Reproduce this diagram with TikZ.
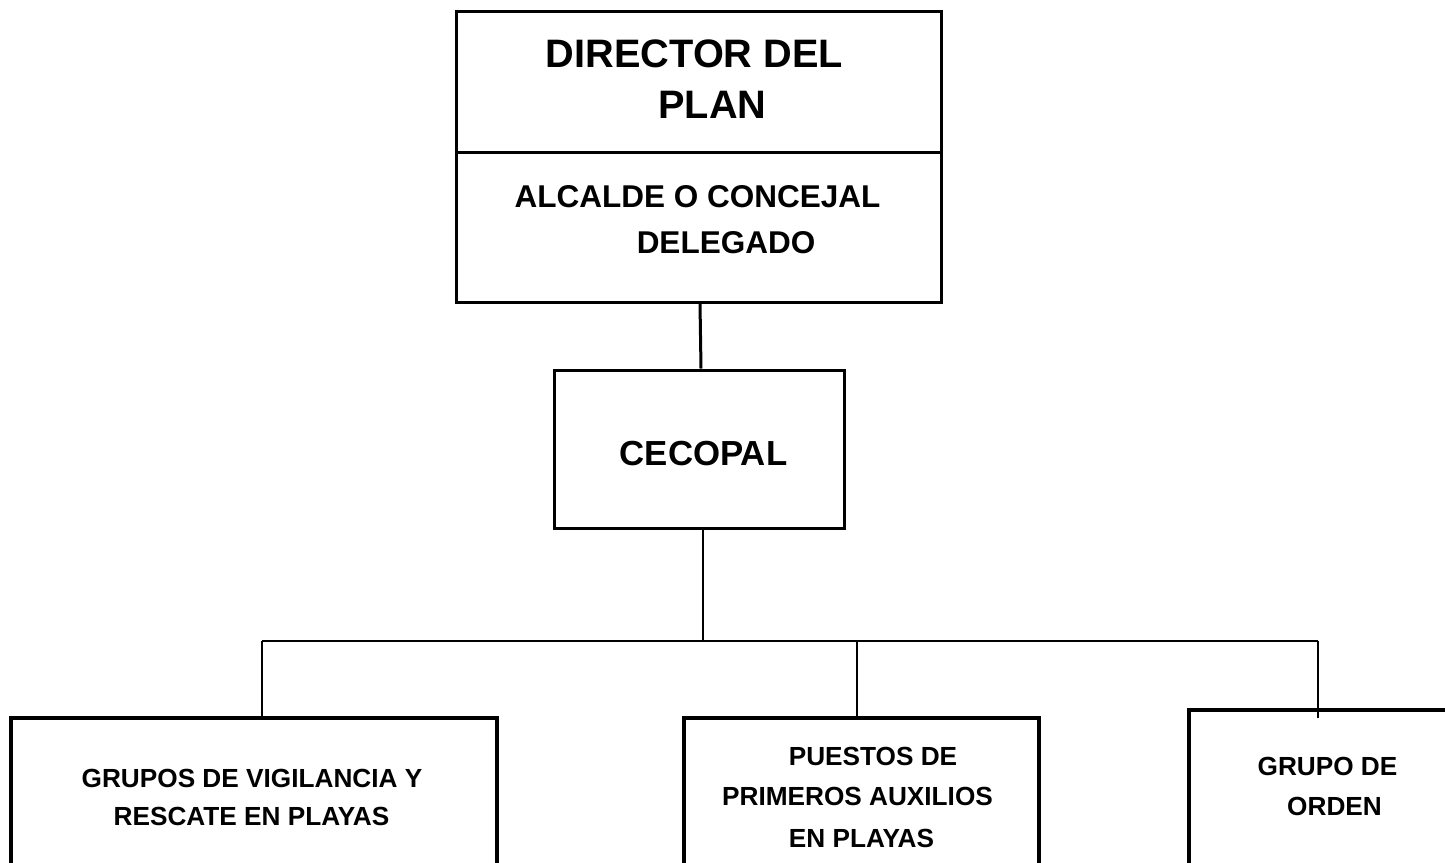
\documentclass[tikz,border=0pt]{standalone}
\usepackage{fontspec}
\setmainfont{Liberation Sans}
\begin{document}
\begin{tikzpicture}[x=1pt,y=-1pt,
  box/.style={draw=black,line width=3pt,rectangle,inner sep=0pt},
  conn/.style={draw=black,line width=2pt},
  big/.style={anchor=base,inner sep=0pt,font=\fontsize{39.7}{39.7}\selectfont\bfseries},
  mid/.style={anchor=base,inner sep=0pt,font=\fontsize{31.5}{31.5}\selectfont\bfseries},
  cec/.style={anchor=base,inner sep=0pt,font=\fontsize{34.8}{34.8}\selectfont\bfseries},
  small/.style={anchor=base,inner sep=0pt,font=\fontsize{26.2}{26.2}\selectfont\bfseries}]
\clip (0,0) rectangle (1445,862);
\fill[white] (0,0) rectangle (1445,862);
% boxes
\node[box,minimum width=485pt,minimum height=291pt] (top) at (698.5,156.5) {};
\draw[line width=3pt] (top.west |- 0,152) coordinate (dl) -- (top.east |- 0,152) coordinate (dr);
\node[box,minimum width=290pt,minimum height=158pt] (cecopal) at (699,449) {};
\node[box,line width=3.5pt,minimum width=486pt,minimum height=162pt] (left) at (254,799) {};
\node[box,line width=3.5pt,minimum width=355pt,minimum height=162pt] (middle) at (861.5,799) {};
\node[box,line width=3.5pt,minimum width=271pt,minimum height=170pt] (right) at (1324.5,795) {};
% texts
\node[big] (t1) at (694.5,67) {DIRECTOR DEL};
\node[big] (t2) at (712.5,118) {PLAN};
\node[mid] (t3) at (697.5,207) {ALCALDE O CONCEJAL};
\node[mid] (t4) at (726,253) {DELEGADO};
\node[cec] (t5) at (703.5,465) {CECOPAL};
\node[small] (t6) at (252,787) {GRUPOS DE VIGILANCIA Y};
\node[small] (t7) at (251.5,825) {RESCATE EN PLAYAS};
\node[small] (t8) at (873,765) {PUESTOS DE};
\node[small] (t9) at (857.5,805) {PRIMEROS AUXILIOS};
\node[small] (t10) at (861.5,847) {EN PLAYAS};
\node[small] (t11) at (1327.5,775) {GRUPO DE};
\node[small] (t12) at (1334.5,815) {ORDEN};
% connectors
\coordinate (c1) at (700,302);
\coordinate (c2) at (701,370);
\draw[line width=3pt] (c1 |- top.south) -- (c2 |- cecopal.north);
\coordinate (bc) at (703,641);
\coordinate (b1) at (262,641);
\coordinate (b2) at (857,641);
\coordinate (b3) at (1318,641);
\coordinate (e3) at (1318,718);
\draw[conn] (bc |- cecopal.south) -- (bc);
\draw[conn] (b1) -- (b3);
\draw[conn] (b1) -- (b1 |- left.north);
\draw[conn] (b2) -- (b2 |- middle.north);
\draw[conn] (b3) -- (e3);
\end{tikzpicture}
\end{document}
